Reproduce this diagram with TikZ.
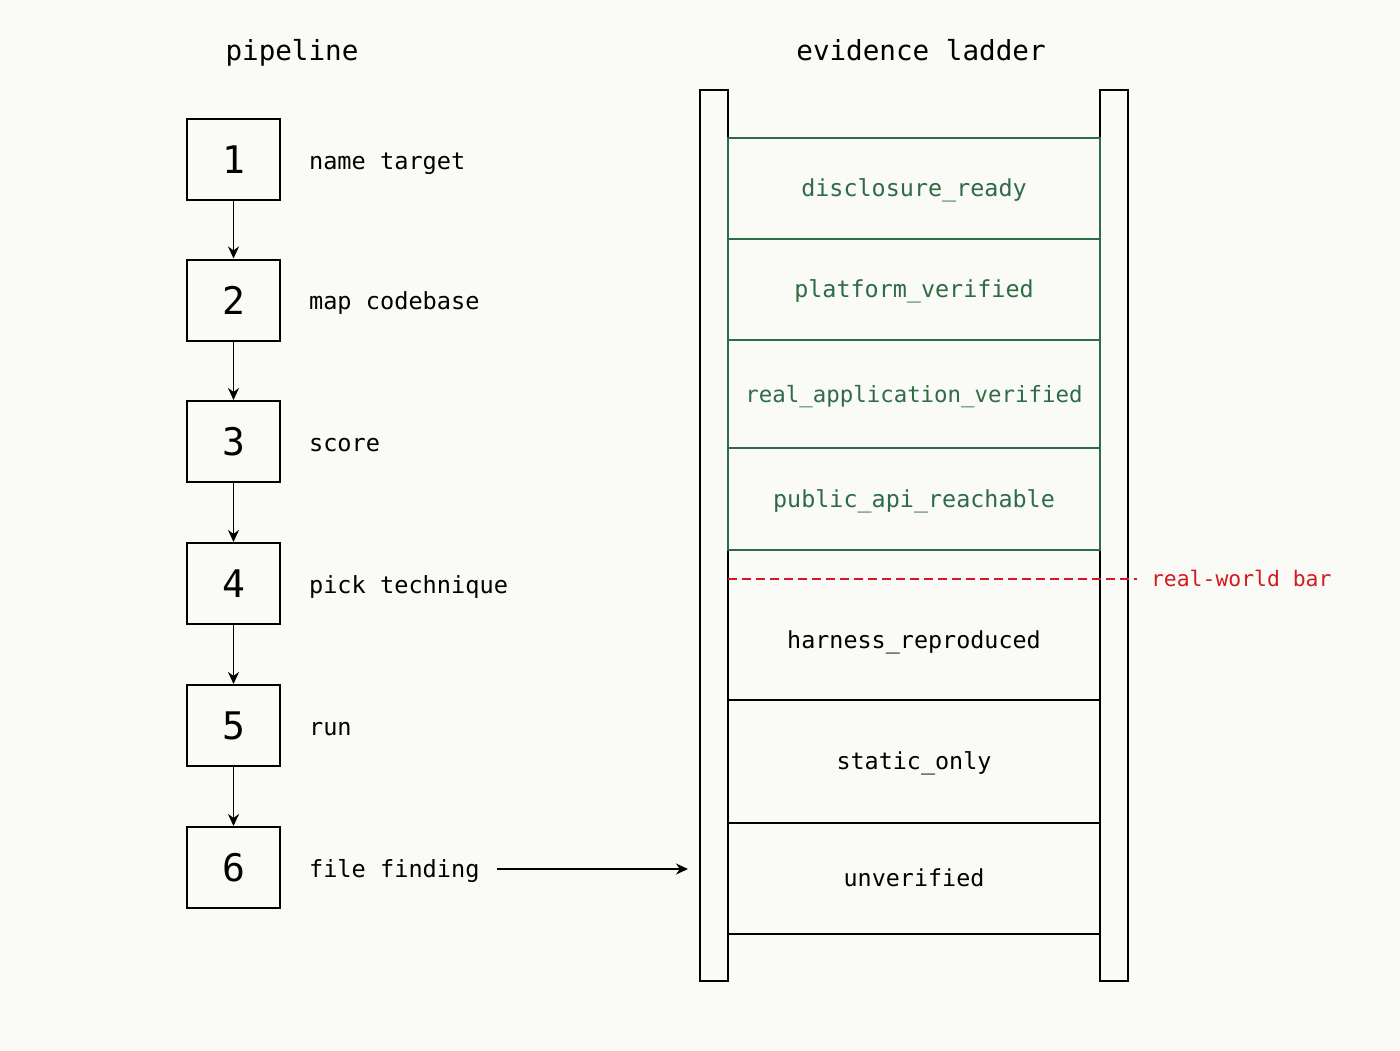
\documentclass[tikz,border=0pt]{standalone}
\usepackage{fontspec}
\setmonofont{DejaVu Sans Mono}
\usetikzlibrary{arrows.meta}
\definecolor{paper}{HTML}{FAFAF6}
\definecolor{rung}{HTML}{2F6B47}
\definecolor{barred}{HTML}{D41A1F}
\newcommand{\us}{\symbol{"5F}}

\tikzset{
  stepbox/.style={draw,line width=1pt,minimum width=46.5pt,minimum height=40.5pt,
    font=\ttfamily\fontsize{19}{19}\selectfont},
  lbl/.style={anchor=west,text height=8pt,text depth=0pt,font=\ttfamily\fontsize{11.8}{13}\selectfont},
  heading/.style={text height=9pt,text depth=0pt,font=\ttfamily\fontsize{13.8}{15}\selectfont},
  rail/.style={draw,line width=1pt,fill=paper,minimum width=14pt,minimum height=445.5pt},
  cell/.style={draw,line width=1pt,minimum width=186pt,text height=8pt,text depth=0pt,
    font=\ttfamily\fontsize{11.7}{13}\selectfont},
  good/.style={cell,draw=rung,text=rung},
  flow/.style={-{Stealth[length=6pt,width=5.5pt]},line width=0.9pt}
}

\begin{document}
\begin{tikzpicture}[x=0.5pt,y=-0.5pt]
\fill[paper] (0,0) rectangle (1400,1050);
\useasboundingbox (0,0) rectangle (1400,1050);

% headings
\draw (292,51) node[heading](hpipe) {pipeline};
\draw (921,51) node[heading](hladder) {evidence ladder};

% pipeline steps
\draw (233.5,159.5) node[stepbox](one) {1};
\draw (233.5,300.0) node[stepbox](two) {2};
\draw (233.5,441.5) node[stepbox](three) {3};
\draw (233.5,583.5) node[stepbox](four) {4};
\draw (233.5,725.5) node[stepbox](five) {5};
\draw (233.5,867.5) node[stepbox](six) {6};
\draw (302,161) node[lbl](tone) {name target};
\draw (302,301) node[lbl](ttwo) {map codebase};
\draw (302,443) node[lbl](tthree) {score};
\draw (302,585) node[lbl](tfour) {pick technique};
\draw (302,727) node[lbl](tfive) {run};
\draw (302,869) node[lbl](tsix) {file finding};
\draw[flow] (one) -- (two);
\draw[flow] (two) -- (three);
\draw[flow] (three) -- (four);
\draw[flow] (four) -- (five);
\draw[flow] (five) -- (six);

% ladder rails
\draw (714,535.5) node[rail](lrail) {};
\draw (1114,535.5) node[rail](rrail) {};

% rungs below the bar
\draw (914,625.0) node[cell,minimum height=75pt](harness) {};
\draw (914,640) node[text height=8pt,text depth=0pt,font=\ttfamily\fontsize{11.7}{13}\selectfont](tharness) {harness\us reproduced};
\draw (914,761.5) node[cell,minimum height=61.5pt](static) {static\us only};
\draw (914,878.5) node[cell,minimum height=55.5pt](unver) {unverified};

% rungs above the bar
\draw (914,188.5) node[good,minimum height=50.5pt](disc) {disclosure\us ready};
\draw (914,289.5) node[good,minimum height=50.5pt](plat) {platform\us verified};
\draw (914,394.0) node[good,minimum height=54pt,font=\ttfamily\fontsize{11.2}{13}\selectfont](realapp) {real\us application\us verified};
\draw (914,499.0) node[good,minimum height=51pt](pubapi) {public\us api\us reachable};

% real-world bar
\coordinate (barL) at (728,579);
\coordinate (barR) at (1137,579);
\draw[barred,line width=1pt,dash pattern=on 4.5pt off 2.5pt] (barL) -- (barR);
\draw (1144,579) node[lbl,text=barred,text height=7pt,font=\ttfamily\fontsize{10.7}{12}\selectfont](tbar) {real-world bar};

% finding enters the ladder
\draw[flow,shorten <=5pt,shorten >=5.5pt] (tsix) -- (lrail.west |- tsix);
\end{tikzpicture}
\end{document}
